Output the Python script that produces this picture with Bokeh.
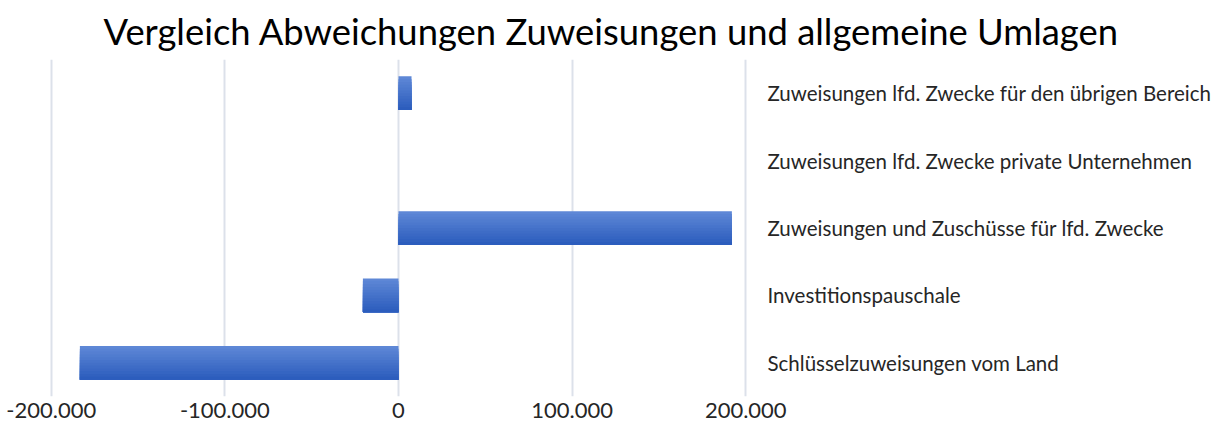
from bokeh.plotting import figure
from bokeh.models import FactorRange, Range1d, FixedTicker, ColumnDataSource
from bokeh.transform import dodge
from bokeh.embed import file_html
from bokeh.resources import INLINE

# ---- data ----
categories = [
    "Zuweisungen lfd. Zwecke für den übrigen Bereich",
    "Zuweisungen lfd. Zwecke private Unternehmen",
    "Zuweisungen und Zuschüsse für lfd. Zwecke",
    "Investitionspauschale",
    "Schlüsselzuweisungen vom Land",
]
values = [7500, 0, 192000, -20500, -183500]
tick_values = [-200000, -100000, 0, 100000, 200000]
tick_labels = ["-200.000", "-100.000", "0", "100.000", "200.000"]
title_text = "Vergleich Abweichungen Zuweisungen und allgemeine Umlagen"

FONT = "Lato"

p = figure(
    frame_width=698, frame_height=337,
    y_range=FactorRange(factors=list(reversed(categories)), range_padding=0),
    x_range=Range1d(-201000, 201000),
    y_axis_location="right",
    output_backend="svg", toolbar_location=None,
    min_border_left=49, min_border_right=0, min_border_top=0, min_border_bottom=36,
)
p.outline_line_color = None
p.background_fill_color = "white"
p.border_fill_color = "white"

src = ColumnDataSource(dict(cat=categories, val=values))

# bars with a vertical gradient: overlapping strips, each reaching the bar bottom
bar_h = 0.5
n = 12
top = (0x5E, 0x87, 0xD6)
bot = (0x2C, 0x5D, 0xBD)
for i in range(n):
    t = i / (n - 1)
    col = "#%02x%02x%02x" % tuple(int(round(a + (b - a) * t)) for a, b in zip(top, bot))
    h = bar_h - i * bar_h / n
    off = -bar_h / 2 + h / 2
    p.hbar(y=dodge("cat", off, range=p.y_range), left=0, right="val",
           height=h, source=src, fill_color=col, line_color=None)

# x axis
p.xaxis.ticker = FixedTicker(ticks=tick_values)
p.xaxis.major_label_overrides = {v: l for v, l in zip(tick_values, tick_labels)}
p.xaxis.axis_line_color = None
p.xaxis.major_tick_line_color = None
p.xaxis.minor_tick_line_color = None
p.xaxis.major_tick_out = 0
p.xaxis.major_label_standoff = 6
p.xaxis.major_label_text_font = FONT
p.xaxis.major_label_text_font_size = "22px"
p.xaxis.major_label_text_color = "#262626"

# y axis (right, category labels)
p.yaxis.axis_line_color = None
p.yaxis.major_tick_line_color = None
p.yaxis.minor_tick_line_color = None
p.yaxis.major_tick_out = 0
p.yaxis.major_label_standoff = 20
p.yaxis.major_label_text_font = FONT
p.yaxis.major_label_text_font_size = "20.5px"
p.yaxis.major_label_text_color = "#262626"

p.xgrid.grid_line_color = "#DCE1EA"
p.xgrid.grid_line_width = 2
p.ygrid.grid_line_color = None

p.title.text = title_text
p.title.align = "left"
p.title.offset = 54
p.title.standoff = 13
p.title.text_font = FONT
p.title.text_font_size = "36.4px"
p.title.text_font_style = "normal"
p.title.text_color = "#000000"

open("out.html", "w").write(file_html(p, INLINE))
